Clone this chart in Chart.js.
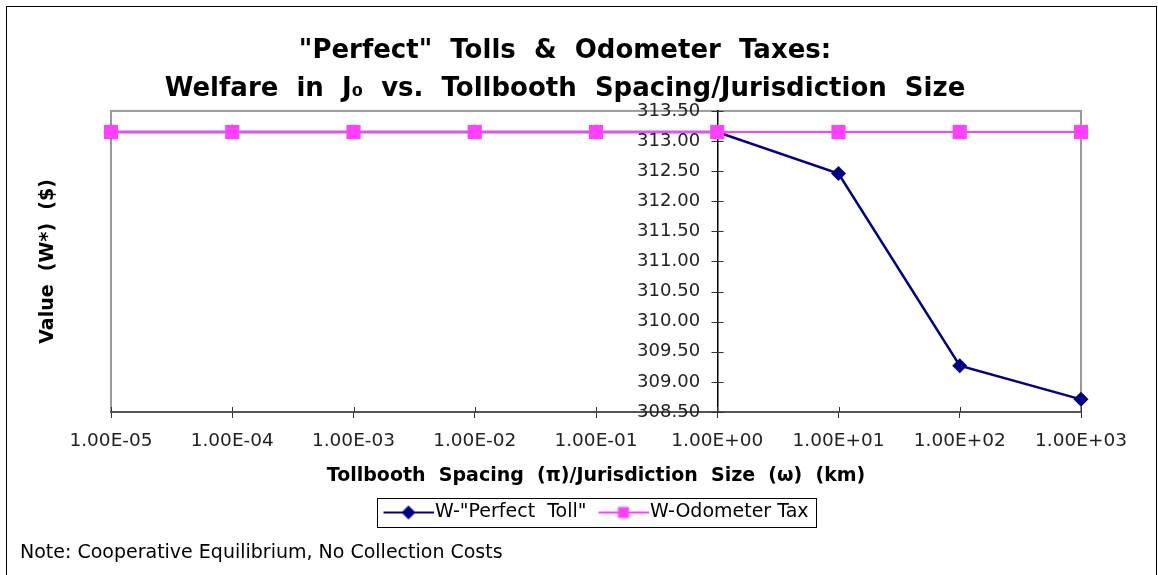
<!DOCTYPE html>
<html>
<head>
<meta charset="utf-8">
<script src="https://cdn.jsdelivr.net/npm/chart.js@4"></script>
<style>
  html, body { margin: 0; padding: 0; background: #fff; }
  #wrap { width: 1158px; height: 575px; }
</style>
</head>
<body>
<div id="wrap"><canvas id="chart" width="1158" height="575"></canvas></div>
<script>
const spacingLabels = ['1.00E-05', '1.00E-04', '1.00E-03', '1.00E-02', '1.00E-01', '1.00E+00', '1.00E+01', '1.00E+02', '1.00E+03'];
const perfectToll = [313.15, 313.15, 313.15, 313.15, 313.15, 313.15, 312.46, 309.27, 308.71];
const odometerTax = [313.15, 313.15, 313.15, 313.15, 313.15, 313.15, 313.15, 313.15, 313.15];
const yMin = 308.5, yMax = 313.5, yStep = 0.5;
const axisCrossAt = 5; // y axis crosses at 1.00E+00

const navy = '#000080';
const magenta = '#FF40FF';

Chart.defaults.font.family = "'DejaVu Sans', sans-serif";
Chart.defaults.color = '#000';

// legend symbol: line with the marker in the middle, like the spreadsheet legend.
// The image is wider than the legend box so the line runs up to the text.
function legendSymbol(color, shape) {
    const c = document.createElement('canvas');
    c.width = 60; c.height = 18;
    const g = c.getContext('2d');
    g.strokeStyle = color;
    g.lineWidth = 2;
    g.beginPath(); g.moveTo(9, 9); g.lineTo(60, 9); g.stroke();
    g.fillStyle = color;
    g.beginPath();
    if (shape === 'diamond') {
        g.moveTo(34, 2); g.lineTo(41, 9); g.lineTo(34, 16); g.lineTo(27, 9);
    } else {
        g.rect(28.5, 3.5, 11, 11);
    }
    g.closePath(); g.fill();
    return c;
}

const decorations = {
    id: 'decorations',
    beforeDraw(chart) {
        const {ctx, chartArea: a} = chart;
        ctx.save();
        // outer frame
        ctx.strokeStyle = '#000';
        ctx.lineWidth = 1;
        ctx.strokeRect(6.5, 6.5, 1150, 620);
        // plot area frame
        ctx.strokeStyle = '#999';
        ctx.lineWidth = 2;
        ctx.strokeRect(a.left, a.top, a.right - a.left, a.bottom - a.top);
        ctx.restore();
    },
    beforeDatasetsDraw(chart) {
        // tick marks that cross the axes
        const {ctx, chartArea: a, scales} = chart;
        ctx.save();
        ctx.lineWidth = 1;
        ctx.strokeStyle = '#333';
        ctx.beginPath();
        scales.x.ticks.forEach((t, i) => {
            const px = Math.round(scales.x.getPixelForTick(i)) + 0.5;
            ctx.moveTo(px, a.bottom); ctx.lineTo(px, a.bottom - 5);
        });
        const ax = Math.round(scales.x.getPixelForValue(axisCrossAt)) + 0.5;
        scales.y.ticks.forEach((t, i) => {
            const py = Math.round(scales.y.getPixelForTick(i)) + 0.5;
            ctx.moveTo(ax - 6, py); ctx.lineTo(ax + 6, py);
        });
        ctx.stroke();
        ctx.restore();
    },
    afterDraw(chart) {
        const {ctx, legend} = chart;
        ctx.save();
        // legend box
        const boxes = legend.legendHitBoxes;
        if (boxes && boxes.length) {
            const l = Math.min(...boxes.map(b => b.left)) - 6;
            const r = Math.max(...boxes.map(b => b.left + b.width)) + 8;
            const t = Math.min(...boxes.map(b => b.top)) - 5;
            const bt = Math.max(...boxes.map(b => b.top + b.height)) + 5;
            ctx.strokeStyle = '#000';
            ctx.lineWidth = 1;
            ctx.strokeRect(Math.round(l) + 0.5, Math.round(t) + 0.5, Math.round(r - l), Math.round(bt - t));
        }
        // note
        ctx.fillStyle = '#000';
        ctx.font = "19px 'DejaVu Sans'";
        ctx.textBaseline = 'middle';
        ctx.textAlign = 'left';
        ctx.fillText('Note: Cooperative Equilibrium, No Collection Costs', 20, 553);
        ctx.restore();
    }
};

new Chart(document.getElementById('chart'), {
    type: 'line',
    data: {
        labels: spacingLabels,
        datasets: [{
            label: 'W-"Perfect  Toll"',
            data: perfectToll,
            borderColor: navy,
            backgroundColor: navy,
            borderWidth: 2.5,
            pointStyle: 'rectRot',
            pointRadius: 7.5,
            pointHoverRadius: 7.5,
            pointBorderWidth: 0,
            order: 1,
            legendSymbol: legendSymbol(navy, 'diamond')
        }, {
            label: 'W-Odometer Tax',
            data: odometerTax,
            borderColor: magenta,
            backgroundColor: magenta,
            borderWidth: 2,
            pointStyle: 'rect',
            pointRadius: 10,
            pointHoverRadius: 10,
            pointBorderWidth: 0,
            order: 0,
            legendSymbol: legendSymbol(magenta, 'square')
        }]
    },
    options: {
        responsive: false,
        animation: false,
        clip: false,
        layout: { padding: { left: 0, right: 28, top: 0, bottom: 43 } },
        plugins: {
            title: {
                display: true,
                text: ['"Perfect"  Tolls  &  Odometer  Taxes:', 'Welfare  in  J\u2080  vs.  Tollbooth  Spacing/Jurisdiction  Size'],
                font: { size: 26, weight: 'bold', lineHeight: 1.46 },
                color: '#000',
                padding: { top: 32, bottom: 3 }
            },
            legend: {
                position: 'bottom',
                fullSize: false,
                labels: {
                    usePointStyle: true,
                    pointStyleWidth: 42,
                    padding: 12,
                    color: '#000',
                    font: { size: 19 },
                    generateLabels(chart) {
                        return chart.data.datasets.map((ds, i) => ({
                            text: ds.label,
                            pointStyle: ds.legendSymbol,
                            fillStyle: ds.backgroundColor,
                            strokeStyle: ds.borderColor,
                            lineWidth: 0,
                            datasetIndex: i,
                            hidden: false
                        }));
                    }
                }
            },
            tooltip: { enabled: false }
        },
        scales: {
            x: {
                type: 'category',
                offset: false,
                grid: { drawOnChartArea: false, drawTicks: true, tickLength: 6, color: '#333' },
                border: { color: '#555', width: 2 },
                ticks: { font: { size: 18.5 }, color: '#222', padding: 12, maxRotation: 0, autoSkip: false },
                title: {
                    display: true,
                    text: 'Tollbooth  Spacing  (\u03c0)/Jurisdiction  Size  (\u03c9)  (km)',
                    font: { size: 19, weight: 'bold' },
                    color: '#000',
                    padding: { top: 0, bottom: 4 }
                }
            },
            y: {
                type: 'linear',
                position: { x: axisCrossAt },
                min: yMin,
                max: yMax,
                grid: { drawOnChartArea: false, drawTicks: false },
                border: { color: '#000', width: 1.5 },
                ticks: {
                    stepSize: yStep,
                    font: { size: 18 },
                    color: '#222',
                    // labels sit flush on the crossing axis, so pad them with spaces
                    callback: v => v.toFixed(2) + '   '
                }
            },
            yTitle: {
                type: 'linear',
                position: 'left',
                display: true,
                grid: { display: false },
                border: { display: false },
                ticks: { display: false },
                title: {
                    display: true,
                    text: 'Value  (W*)  ($)',
                    font: { size: 19, weight: 'bold' },
                    color: '#000',
                    padding: { top: 37, bottom: 0 }
                },
                afterFit(s) { s.width = 111; }
            },
            yRight: {
                type: 'linear',
                position: 'right',
                display: true,
                grid: { display: false },
                border: { display: false },
                ticks: { display: false },
                afterFit(s) { s.width = 49; }
            }
        }
    },
    plugins: [decorations]
});
</script>
</body>
</html>
